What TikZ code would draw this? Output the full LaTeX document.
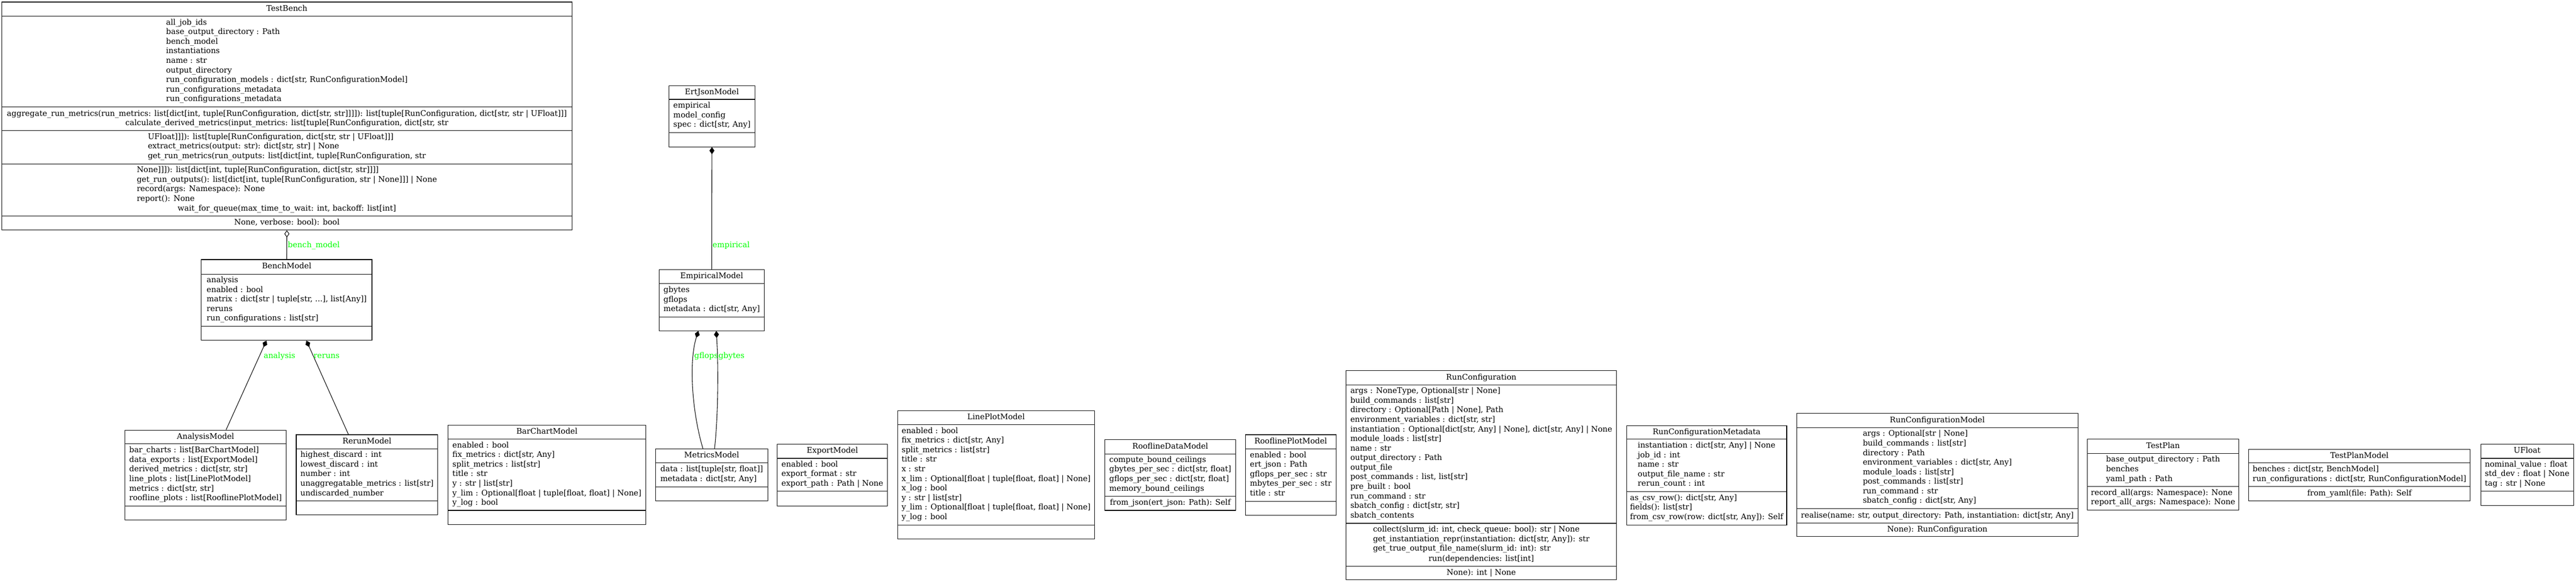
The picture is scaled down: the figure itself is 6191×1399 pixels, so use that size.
\documentclass[tikz,border=0pt]{standalone}
\usepackage{fontspec}
\setmainfont{DejaVu Serif}
\usetikzlibrary{arrows.meta,calc,fit}
\definecolor{edgegreen}{HTML}{00FF00}

\begin{document}
\begin{tikzpicture}[x=0.75pt, y=-0.75pt, line width=1pt,
	box/.style={draw, inner sep=0pt, fit={#1}},
	txt/.style={inner sep=0pt, align=left, font=\fontsize{14}{17.25}\selectfont,
		execute at begin node=\strut, execute at end node=\strut},
	lbl/.style={txt, text=edgegreen, anchor=west},
	comp/.style={{Diamond[length=12.75pt, width=9pt]}-},
	aggr/.style={{Diamond[open, length=12.75pt, width=9pt]}-}]
				\path[fill=white, use as bounding box] (0,0) rectangle (6191,1399);

				% TestBench
				\node[box={(4,5) (1375,553)}] (testbench) {};
				\foreach \y in {39,257,314,394,519}
					\draw (4,\y) -- (1375,\y);
				\node[txt] (tb-name) at (689.5,22) {TestBench};
				\node[txt] (tb-attrs) at (689.5,148) {all\_job\_ids\\
					base\_output\_directory : Path\\
					bench\_model\\
					instantiations\\
					name : str\\
					output\_directory\\
					run\_configuration\_models : dict[str, RunConfigurationModel]\\
					run\_configurations\_metadata\\
					run\_configurations\_metadata};
				\node[txt] (tb-m1) at (689.5,274) {aggregate\_run\_metrics(run\_metrics: list[dict[int, tuple[RunConfiguration, dict[str, str]]]]): list[tuple[RunConfiguration, dict[str, str | UFloat]]]};
				\node[txt] (tb-m2) at (689.5,297) {calculate\_derived\_metrics(input\_metrics: list[tuple[RunConfiguration, dict[str, str};
				\node[txt] (tb-m3) at (689.5,354) {UFloat]]]): list[tuple[RunConfiguration, dict[str, str | UFloat]]]\\
					extract\_metrics(output: str): dict[str, str] | None\\
					get\_run\_metrics(run\_outputs: list[dict[int, tuple[RunConfiguration, str};
				\node[txt] (tb-m4) at (689.5,445) {None]]]): list[dict[int, tuple[RunConfiguration, dict[str, str]]]]\\
					get\_run\_outputs(): list[dict[int, tuple[RunConfiguration, str | None]]] | None\\
					record(args: Namespace): None\\
					report(): None};
				\node[txt] (tb-m5) at (689.5,502.5) {wait\_for\_queue(max\_time\_to\_wait: int, backoff: list[int]};
				\node[txt] (tb-m6) at (689.5,536) {None, verbose: bool): bool};

				% ErtJsonModel
				\node[box={(1608,206) (1814,353)}] (ertjsonmodel) {};
				\foreach \y in {239,319}
					\draw (1608,\y) -- (1814,\y);
				\node[txt] (ej-name) at (1711,222.5) {ErtJsonModel};
				\node[txt] (ej-attrs) at (1711,279) {empirical\\ model\_config\\ spec : dict[str, Any]};

				% BenchModel
				\node[box={(484,624) (894,818)}] (benchmodel) {};
				\foreach \y in {659,784}
					\draw (484,\y) -- (894,\y);
				\node[txt] (bm-name) at (689,641.5) {BenchModel};
				\node[txt] (bm-attrs) at (689,721.5) {analysis\\
					enabled : bool\\
					matrix : dict[str | tuple[str, ...], list[Any]]\\
					reruns\\
					run\_configurations : list[str]};

				% EmpiricalModel
				\node[box={(1584,648) (1837,795)}] (empiricalmodel) {};
				\foreach \y in {682,762}
					\draw (1584,\y) -- (1837,\y);
				\node[txt] (em-name) at (1710.5,665) {EmpiricalModel};
				\node[txt] (em-attrs) at (1710.5,722) {gbytes\\ gflops\\ metadata : dict[str, Any]};

				% AnalysisModel
				\node[box={(300,1034) (688,1250)}] (analysismodel) {};
				\foreach \y in {1067,1217}
					\draw (300,\y) -- (688,\y);
				\node[txt] (am-name) at (494,1050.5) {AnalysisModel};
				\node[txt] (am-attrs) at (494,1142) {bar\_charts : list[BarChartModel]\\
					data\_exports : list[ExportModel]\\
					derived\_metrics : dict[str, str]\\
					line\_plots : list[LinePlotModel]\\
					metrics : dict[str, str]\\
					roofline\_plots : list[RooflinePlotModel]};

				% RerunModel
				\node[box={(712,1045) (1052,1238)}] (rerunmodel) {};
				\foreach \y in {1079,1204}
					\draw (712,\y) -- (1052,\y);
				\node[txt] (rm-name) at (882,1062) {RerunModel};
				\node[txt] (rm-attrs) at (882,1141.5) {highest\_discard : int\\
					lowest\_discard : int\\
					number : int\\
					unaggregatable\_metrics : list[str]\\
					undiscarded\_number};

				% BarChartModel
				\node[box={(1077,1022) (1552,1261)}] (barchartmodel) {};
				\foreach \y in {1056,1227}
					\draw (1077,\y) -- (1552,\y);
				\node[txt] (bc-name) at (1314.5,1039) {BarChartModel};
				\node[txt] (bc-attrs) at (1314.5,1141.5) {enabled : bool\\
					fix\_metrics : dict[str, Any]\\
					split\_metrics : list[str]\\
					title : str\\
					y : str | list[str]\\
					y\_lim : Optional[float | tuple[float, float] | None]\\
					y\_log : bool};

				% MetricsModel
				\node[box={(1576,1079) (1845,1204)}] (metricsmodel) {};
				\foreach \y in {1113,1171}
					\draw (1576,\y) -- (1845,\y);
				\node[txt] (mm-name) at (1710.5,1096) {MetricsModel};
				\node[txt] (mm-attrs) at (1710.5,1142) {data : list[tuple[str, float]]\\ metadata : dict[str, Any]};

				% ExportModel
				\node[box={(1868,1068) (2133,1216)}] (exportmodel) {};
				\foreach \y in {1102,1181}
					\draw (1868,\y) -- (2133,\y);
				\node[txt] (ex-name) at (2000.5,1085) {ExportModel};
				\node[txt] (ex-attrs) at (2000.5,1141.5) {enabled : bool\\ export\_format : str\\ export\_path : Path | None};

				% LinePlotModel
				\node[box={(2157,987) (2631,1296)}] (lineplotmodel) {};
				\foreach \y in {1021,1262}
					\draw (2157,\y) -- (2631,\y);
				\node[txt] (lp-name) at (2394,1004) {LinePlotModel};
				\node[txt] (lp-attrs) at (2394,1141.5) {enabled : bool\\
					fix\_metrics : dict[str, Any]\\
					split\_metrics : list[str]\\
					title : str\\
					x : str\\
					x\_lim : Optional[float | tuple[float, float] | None]\\
					x\_log : bool\\
					y : str | list[str]\\
					y\_lim : Optional[float | tuple[float, float] | None]\\
					y\_log : bool};

				% RooflineDataModel
				\node[box={(2655,1057) (2970,1227)}] (rooflinedatamodel) {};
				\foreach \y in {1091,1193}
					\draw (2655,\y) -- (2970,\y);
				\node[txt] (rd-name) at (2812.5,1074) {RooflineDataModel};
				\node[txt] (rd-attrs) at (2812.5,1142) {compute\_bound\_ceilings\\
					gbytes\_per\_sec : dict[str, float]\\
					gflops\_per\_sec : dict[str, float]\\
					memory\_bound\_ceilings};
				\node[txt] (rd-meth) at (2812.5,1210) {from\_json(ert\_json: Path): Self};

				% RooflinePlotModel
				\node[box={(2993,1045) (3211,1239)}] (rooflineplotmodel) {};
				\foreach \y in {1079,1205}
					\draw (2993,\y) -- (3211,\y);
				\node[txt] (rp-name) at (3102,1062) {RooflinePlotModel};
				\node[txt] (rp-attrs) at (3102,1142) {enabled : bool\\
					ert\_json : Path\\
					gflops\_per\_sec : str\\
					mbytes\_per\_sec : str\\
					title : str};

				% RunConfiguration
				\node[box={(3235,891) (3885,1394)}] (runconfiguration) {};
				\foreach \y in {925,1258,1361}
					\draw (3235,\y) -- (3885,\y);
				\node[txt] (rc-name) at (3560,908) {RunConfiguration};
				\node[txt] (rc-attrs) at (3560,1091.5) {args : NoneType, Optional[str | None]\\
					build\_commands : list[str]\\
					directory : Optional[Path | None], Path\\
					environment\_variables : dict[str, str]\\
					instantiation : Optional[dict[str, Any] | None], dict[str, Any] | None\\
					module\_loads : list[str]\\
					name : str\\
					output\_directory : Path\\
					output\_file\\
					post\_commands : list, list[str]\\
					pre\_built : bool\\
					run\_command : str\\
					sbatch\_config : dict[str, str]\\
					sbatch\_contents};
				\node[txt] (rc-m1) at (3560,1298) {collect(slurm\_id: int, check\_queue: bool): str | None\\
					get\_instantiation\_repr(instantiation: dict[str, Any]): str\\
					get\_true\_output\_file\_name(slurm\_id: int): str};
				\node[txt] (rc-m2) at (3560,1344) {run(dependencies: list[int]};
				\node[txt] (rc-m3) at (3560,1377.5) {None): int | None};

				% RunConfigurationMetadata
				\node[box={(3909,1023) (4294,1262)}] (runconfigurationmetadata) {};
				\foreach \y in {1056,1182}
					\draw (3909,\y) -- (4294,\y);
				\node[txt] (rcm-name) at (4101.5,1039.5) {RunConfigurationMetadata};
				\node[txt] (rcm-attrs) at (4101.5,1119) {instantiation : dict[str, Any] | None\\
					job\_id : int\\
					name : str\\
					output\_file\_name : str\\
					rerun\_count : int};
				\node[txt] (rcm-meth) at (4101.5,1222) {as\_csv\_row(): dict[str, Any]\\
					fields(): list[str]\\
					from\_csv\_row(row: dict[str, Any]): Self};

				% RunConfigurationModel
				\node[box={(4318,994) (4994,1290)}] (runconfigurationmodel) {};
				\foreach \y in {1028,1223,1257}
					\draw (4318,\y) -- (4994,\y);
				\node[txt] (rcmo-name) at (4656,1011) {RunConfigurationModel};
				\node[txt] (rcmo-attrs) at (4656,1125.5) {args : Optional[str | None]\\
					build\_commands : list[str]\\
					directory : Path\\
					environment\_variables : dict[str, Any]\\
					module\_loads : list[str]\\
					post\_commands : list[str]\\
					run\_command : str\\
					sbatch\_config : dict[str, Any]};
				\node[txt] (rcmo-m1) at (4656,1240) {realise(name: str, output\_directory: Path, instantiation: dict[str, Any]};
				\node[txt] (rcmo-m2) at (4656,1273.5) {None): RunConfiguration};

				% TestPlan
				\node[box={(5017,1056) (5380,1226)}] (testplan) {};
				\foreach \y in {1090,1170}
					\draw (5017,\y) -- (5380,\y);
				\node[txt] (tp-name) at (5198.5,1073) {TestPlan};
				\node[txt] (tp-attrs) at (5198.5,1130) {base\_output\_directory : Path\\ benches\\ yaml\_path : Path};
				\node[txt] (tp-meth) at (5198.5,1198) {record\_all(args: Namespace): None\\ report\_all(\_args: Namespace): None};

				% TestPlanModel
				\node[box={(5404,1080) (5937,1204)}] (testplanmodel) {};
				\foreach \y in {1113,1170}
					\draw (5404,\y) -- (5937,\y);
				\node[txt] (tpm-name) at (5670.5,1096.5) {TestPlanModel};
				\node[txt] (tpm-attrs) at (5670.5,1141.5) {benches : dict[str, BenchModel]\\ run\_configurations : dict[str, RunConfigurationModel]};
				\node[txt] (tpm-meth) at (5670.5,1187) {from\_yaml(file: Path): Self};

				% UFloat
				\node[box={(5962,1068) (6185,1215)}] (ufloat) {};
				\foreach \y in {1102,1181}
					\draw (5962,\y) -- (6185,\y);
				\node[txt] (uf-name) at (6073.5,1085) {UFloat};
				\node[txt] (uf-attrs) at (6073.5,1141.5) {nominal\_value : float\\ std\_dev : float | None\\ tag : str | None};

				% associations
				\draw[aggr] (testbench.south) -- (benchmodel.north);
				\draw[comp] ($(benchmodel.south west)+(157,0)$) -- ($(analysismodel.north west)+(244,0)$);
				\draw[comp] ($(benchmodel.south west)+(253,0)$) -- ($(rerunmodel.north west)+(126,0)$);
				\draw[comp] (ertjsonmodel.south) -- (empiricalmodel.north);
				\draw[comp] ($(empiricalmodel.south west)+(95,0)$) .. controls (1655,870) and (1663,990) .. ($(metricsmodel.north west)+(114,0)$);
				\draw[comp] ($(empiricalmodel.south west)+(138,0)$) .. controls (1727,880) and (1726,1000) .. ($(metricsmodel.north west)+(142,0)$);

				\node[lbl] (lbl-benchmodel) at (691,590) {bench\_model};
				\node[lbl] (lbl-analysis) at (633,856) {analysis};
				\node[lbl] (lbl-reruns) at (753,856) {reruns};
				\node[lbl] (lbl-empirical) at (1712,590) {empirical};
				\node[lbl] (lbl-gflops) at (1668,856) {gflops};
				\node[lbl] (lbl-gbytes) at (1726,856) {gbytes};
			\end{tikzpicture}
\end{document}
